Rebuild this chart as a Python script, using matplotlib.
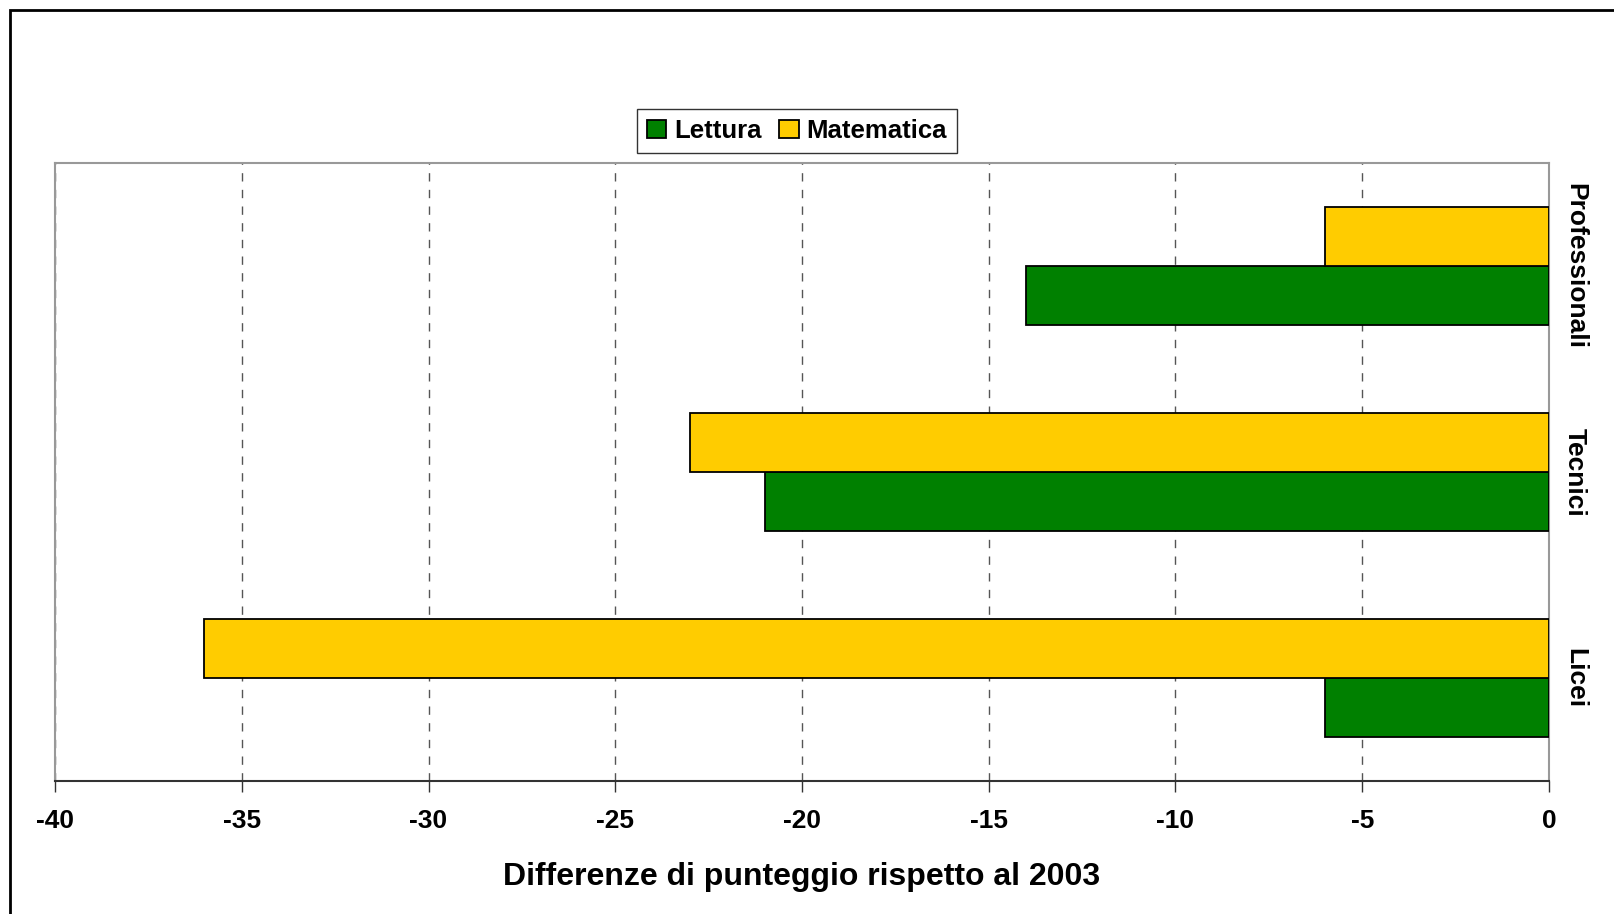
import matplotlib.pyplot as plt
import numpy as np
from matplotlib.patches import Rectangle

plt.rcParams['font.family'] = ['Liberation Sans', 'DejaVu Sans']
plt.rcParams['font.weight'] = 'bold'

categorie = ['Licei', 'Tecnici', 'Professionali']
lettura = [-6, -21, -14]
matematica = [-36, -23, -6]
ticks_x = [-40, -35, -30, -25, -20, -15, -10, -5, 0]

verde = '#008000'
giallo = '#FFCC00'

fig = plt.figure(figsize=(16.14, 9.14), dpi=100)
ax = fig.add_axes([0.0341, 0.1455, 0.9256, 0.6762])

# cornice esterna del grafico
fig.patches.append(Rectangle((10 / 1614, -0.05), 1.1, 1 - 10 / 914 + 0.05,
                             transform=fig.transFigure, fill=False,
                             edgecolor='black', linewidth=2))

y = np.arange(len(categorie))
h = 0.286
ax.barh(y - h / 2, lettura, height=h, color=verde, edgecolor='black',
        linewidth=1.3, label='Lettura', zorder=3)
ax.barh(y + h / 2, matematica, height=h, color=giallo, edgecolor='black',
        linewidth=1.3, label='Matematica', zorder=3)

ax.set_xlim(-40, 0)
ax.set_ylim(-0.5, 2.5)
ax.set_xticks(ticks_x)
ax.set_xticklabels([str(t) for t in ticks_x], fontsize=19, fontweight='bold')
ax.tick_params(axis='x', direction='out', length=8, width=1, color='#333333', pad=12)
ax.xaxis.grid(True, linestyle=(0, (6, 6)), color='#555555', linewidth=1)

ax.yaxis.tick_right()
ax.set_yticks(y)
ax.set_yticklabels(categorie, rotation=-90, va='center', fontsize=19, fontweight='bold')
ax.tick_params(axis='y', length=0, pad=10)

for lato in ['left', 'top', 'right']:
    ax.spines[lato].set_color('#999999')
    ax.spines[lato].set_linewidth(1.5)
ax.spines['bottom'].set_color('#333333')
ax.spines['bottom'].set_linewidth(1.5)

ax.set_xlabel('Differenze di punteggio rispetto al 2003', fontsize=23,
              fontweight='bold', labelpad=21)

leg = ax.legend(loc='center', bbox_to_anchor=(797 / 1614, 1 - 131 / 914),
                bbox_transform=fig.transFigure, ncol=2, fontsize=18.5,
                frameon=True, fancybox=False, handlelength=0.75, handleheight=0.75,
                handletextpad=0.3, columnspacing=0.7, borderpad=0.4)
leg.get_frame().set_edgecolor('black')
leg.get_frame().set_linewidth(1)

fig.savefig('out.png', dpi=100)
